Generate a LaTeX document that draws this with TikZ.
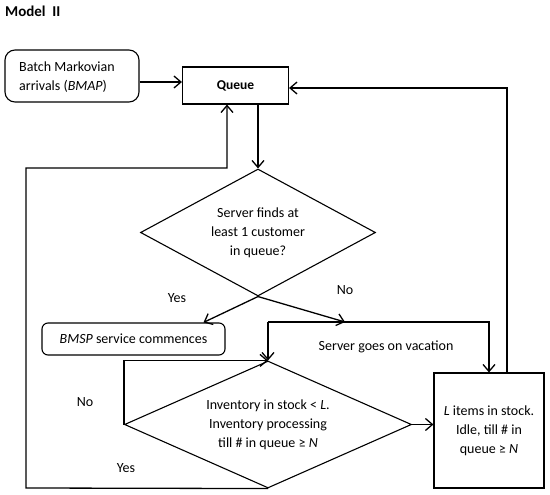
\documentclass[tikz,border=0pt]{standalone}
\usepackage{fontspec}
\setmainfont{Carlito}
\usetikzlibrary{shapes.geometric,arrows.meta}
\begin{document}
\begin{tikzpicture}[x=1pt,y=-1pt,
  every node/.style={font=\fontsize{14}{19}\selectfont, inner sep=0pt},
  ln/.style={line width=1.3pt},
  arr/.style={ln, -{Straight Barb[length=7pt,width=12pt,line width=1.3pt]}},
  boxs/.style={draw, line width=1.1pt},
  dia/.style={draw, line width=1.1pt, diamond, align=center},
  lbl/.style={font=\fontsize{14}{17}\selectfont}
]
\useasboundingbox (0,0) rectangle (550,495);
\node[anchor=west, font=\fontsize{15}{18}\selectfont\bfseries] (title) at (5,11) {Model\ \ II};

\node[boxs, rounded corners=10pt, minimum width=134pt, minimum height=52pt] (bmap) at (72,76) {};
\node[anchor=west, align=left] (bmaptxt) at (19,77) {Batch Markovian\\arrivals (\textit{BMAP})};

\node[boxs, minimum width=106pt, minimum height=37pt, font=\fontsize{13.5}{16}\selectfont\bfseries] (q) at (235.5,85.5) {Queue};

\node[dia, minimum width=235pt, minimum height=127pt, aspect=1.85] (d1) at (258,232.5) {Server finds at\\least 1 customer\\in queue?};

\node[boxs, rounded corners=6pt, minimum width=183pt, minimum height=32pt] (bm) at (133.5,339) {\textit{BMSP} service commences};

\node[dia, minimum width=287pt, minimum height=127pt, aspect=2.26] (d2) at (268,424.5) {Inventory in stock < \textit{L}.\\Inventory processing\\till \# in queue ≥ \textit{N}};

\node[boxs, minimum width=110pt, minimum height=115pt, align=center] (rb) at (489,430.5) {\textit{L} items in stock.\\Idle, till \# in\\queue ≥ \textit{N}};

\node[lbl] (yes1) at (177,298) {Yes};
\node[lbl] (no1) at (345,290) {No};
\node (vac) at (386,347) {Server goes on vacation};
\node[lbl] (no2) at (85,402) {No};
\node[lbl] (yes2) at (126,468) {Yes};

\coordinate (h) at (268,322);
\coordinate (v) at (345,322);
\coordinate (bl) at (26,488);
\coordinate (tl) at (26,168);

\draw[arr] ([yshift=-6pt]bmap.east) -- ([yshift=-6pt]bmap.east -| q.west);
\draw[arr] (d1.north |- q.south) -- (d1.north);
\draw[arr] (d1.south) -- ([xshift=70pt]bm.north);
\draw[arr] (d1.south) -- (v);
\draw[arr] (h) -| (rb.north);
\draw[arr] (h) -- (d2.north);
\draw[arr] (d2.west) |- (d2.north);
\draw[arr] (d2.east) -- (d2.east -| rb.west);
\draw[arr] ([xshift=18pt]rb.north) |- ([yshift=-2.5pt]q.east);
\draw[arr] (d2.south) -- (bl) -- (tl) -| ([xshift=-8.5pt]q.south);
\end{tikzpicture}
\end{document}
